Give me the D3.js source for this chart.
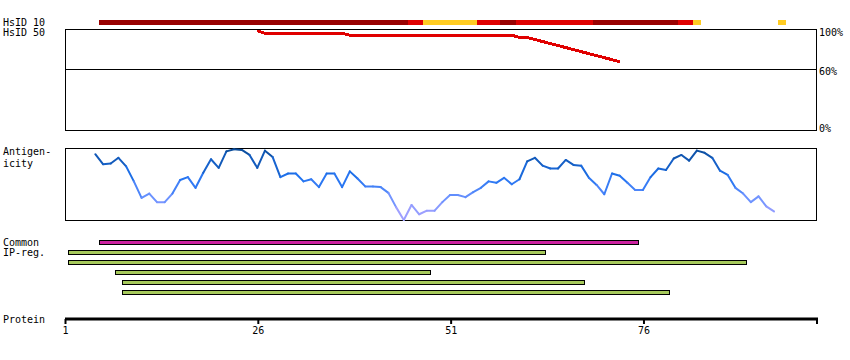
<!DOCTYPE html>
<html>
<head>
<meta charset="utf-8">
<script src="https://cdn.jsdelivr.net/npm/d3@7"></script>
<style>
body { margin: 0; background: #fff; }
text { font-family: "DejaVu Sans Mono", monospace; font-size: 10px; fill: #000; }
</style>
</head>
<body>
<svg id="chart" width="850" height="360"></svg>
<script>
// protein length and axis ticks
var proteinLength = 97;
var axisTicks = [1, 26, 51, 76];

// HsID 10 band: residue ranges and identity level (3 = dark red, 2 = red, 1 = yellow)
var hsid10Start = [5, 45, 47, 54, 57, 59, 69, 80, 82, 93];
var hsid10End   = [44, 46, 53, 56, 58, 68, 79, 81, 82, 93];
var hsid10Level = [3, 2, 1, 2, 3, 2, 3, 2, 1, 1];

// HsID 50 identity (%) per residue, starting at residue 25
var hsid50First = 25;
var hsid50 = [98.3,
    95.7, 95.7, 95.7, 95.7, 95.7, 95.7, 95.7, 95.7, 95.7, 95.7, 95.7,
    93.8, 93.8, 93.8, 93.8, 93.8, 93.8, 93.8, 93.8, 93.8, 93.8, 93.8,
    93.8, 93.8, 93.8, 93.8, 93.8, 93.8, 93.8, 93.8, 93.8, 93.8, 93.8,
    91.6, 91.6,
    89.6, 87.6, 85.6, 83.6, 81.6, 79.6, 77.6, 75.6, 73.6, 71.6, 69.6, 67.6];
var pctTicks = [100, 60, 0];

// antigenicity (normalised) per residue, starting at residue 4
var antigenFirst = 4;
var antigen = [0.92, 0.78, 0.79, 0.87, 0.75, 0.54, 0.31, 0.37, 0.25, 0.25,
    0.37, 0.56, 0.60, 0.45, 0.66, 0.85, 0.73, 0.96, 0.99, 0.98,
    0.91, 0.73, 0.97, 0.88, 0.60, 0.65, 0.65, 0.54, 0.57, 0.46,
    0.65, 0.65, 0.46, 0.68, 0.58, 0.47, 0.47, 0.46, 0.38, 0.18,
    0.00, 0.21, 0.08, 0.13, 0.13, 0.25, 0.35, 0.35, 0.32, 0.39,
    0.45, 0.54, 0.52, 0.59, 0.50, 0.57, 0.82, 0.87, 0.76, 0.72,
    0.72, 0.84, 0.77, 0.76, 0.59, 0.49, 0.36, 0.65, 0.62, 0.52,
    0.42, 0.42, 0.60, 0.72, 0.70, 0.86, 0.91, 0.83, 0.97, 0.94,
    0.87, 0.69, 0.63, 0.45, 0.37, 0.25, 0.33, 0.19, 0.12];

// common IP regions
var ipStart = [5, 1, 1, 7, 8, 8];
var ipEnd   = [74, 62, 88, 47, 67, 78];
var ipType  = ["common", "ip", "ip", "ip", "ip", "ip"];

var svg = d3.select("#chart");

// axis scale (tick positions) and residue boundary scale (features)
var x = d3.scaleLinear().domain([1, 98.5]).range([65, 817]);
var xr = d3.scaleLinear().domain([0, proteinLength]).range([68.3, 816.4]);

var levelColor = d3.scaleOrdinal().domain([3, 2, 1]).range(["#990000", "#e00000", "#ffcc22"]);
var ipColor = d3.scaleOrdinal().domain(["common", "ip"]).range(["#cc22a0", "#a6c95b"]);

// left labels
var labels = [
    ["HsID 10", 26], ["HsID 50", 36],
    ["Antigen-", 155], ["icity", 166.5],
    ["Common", 246], ["IP-reg.", 256],
    ["Protein", 323]
];
svg.selectAll("text.lbl").data(labels).enter().append("text")
    .attr("class", "lbl")
    .attr("x", 3)
    .attr("y", function (d) { return d[1]; })
    .text(function (d) { return d[0]; });

// HsID 10 band
svg.selectAll("rect.h10").data(hsid10Start).enter().append("rect")
    .attr("class", "h10")
    .attr("x", function (d) { return xr(d - 1); })
    .attr("width", function (d, i) { return xr(hsid10End[i]) - xr(d - 1); })
    .attr("y", 20)
    .attr("height", 5)
    .attr("fill", function (d, i) { return levelColor(hsid10Level[i]); })
    .attr("shape-rendering", "crispEdges");

// HsID 50 panel
var yp = d3.scaleLinear().domain([0, 100]).range([130, 29]);
svg.append("rect")
    .attr("x", 65.5).attr("y", 29.5)
    .attr("width", 751).attr("height", 100.5)
    .attr("fill", "none").attr("stroke", "#000").attr("stroke-width", 1)
    .attr("shape-rendering", "crispEdges");
svg.append("line")
    .attr("x1", 65).attr("x2", 817)
    .attr("y1", Math.round(yp(60)) + 0.5).attr("y2", Math.round(yp(60)) + 0.5)
    .attr("stroke", "#000").attr("shape-rendering", "crispEdges");
var pctLabelY = {100: 36, 60: 75, 0: 132};
svg.selectAll("text.pct").data(pctTicks).enter().append("text")
    .attr("class", "pct")
    .attr("x", 819)
    .attr("y", function (d) { return pctLabelY[d]; })
    .text(function (d) { return d + "%"; });

var h50Line = d3.line()
    .x(function (d, i) { return xr(hsid50First + i - 0.5); })
    .y(function (d) { return yp(d); });
svg.append("path")
    .datum(hsid50)
    .attr("d", h50Line)
    .attr("fill", "none")
    .attr("stroke", "#e00000")
    .attr("stroke-width", 3)
    .attr("shape-rendering", "crispEdges");

// antigenicity panel
var ya = d3.scaleLinear().domain([0, 1]).range([220, 148.5]);
svg.append("rect")
    .attr("x", 65.5).attr("y", 148.5)
    .attr("width", 751).attr("height", 71.5)
    .attr("fill", "none").attr("stroke", "#000").attr("stroke-width", 1)
    .attr("shape-rendering", "crispEdges");

var antColor = d3.scaleLinear()
    .domain([0, 0.3, 0.6, 1])
    .range(["#b4a6ff", "#6e93ff", "#1f72f0", "#0a4a96"]);

var segs = antigen.slice(1).map(function (v, i) {
    return {r0: antigenFirst + i, v0: antigen[i], r1: antigenFirst + i + 1, v1: v};
});
svg.selectAll("line.ant").data(segs).enter().append("line")
    .attr("class", "ant")
    .attr("x1", function (d) { return xr(d.r0 - 0.5); })
    .attr("y1", function (d) { return ya(d.v0); })
    .attr("x2", function (d) { return xr(d.r1 - 0.5); })
    .attr("y2", function (d) { return ya(d.v1); })
    .attr("stroke", function (d) { return antColor((d.v0 + d.v1) / 2); })
    .attr("stroke-width", 2)
    .attr("stroke-linecap", "round");

// common IP regions
svg.selectAll("rect.ip").data(ipStart).enter().append("rect")
    .attr("class", "ip")
    .attr("x", function (d) { return xr(d - 1) + 0.5; })
    .attr("width", function (d, i) { return xr(ipEnd[i]) - xr(d - 1) - 1; })
    .attr("y", function (d, i) { return 240.5 + i * 10; })
    .attr("height", 4)
    .attr("fill", function (d, i) { return ipColor(ipType[i]); })
    .attr("stroke", "#000")
    .attr("stroke-width", 1)
    .attr("shape-rendering", "crispEdges");

// protein axis
var axis = d3.axisBottom(x).tickValues(axisTicks).tickSize(5).tickPadding(3);
var gAxis = svg.append("g").attr("transform", "translate(0,319)").call(axis);
gAxis.select(".domain").remove();
gAxis.selectAll(".tick line").attr("stroke", "#000").attr("stroke-width", 2);
gAxis.selectAll(".tick text")
    .attr("font-family", "DejaVu Sans Mono, monospace")
    .attr("font-size", 10)
    .attr("fill", "#000");
svg.append("line")
    .attr("x1", 65).attr("x2", 818)
    .attr("y1", 319).attr("y2", 319)
    .attr("stroke", "#000").attr("stroke-width", 3);
svg.append("line")
    .attr("x1", 817).attr("x2", 817)
    .attr("y1", 319).attr("y2", 324)
    .attr("stroke", "#000").attr("stroke-width", 2);
</script>
</body>
</html>
